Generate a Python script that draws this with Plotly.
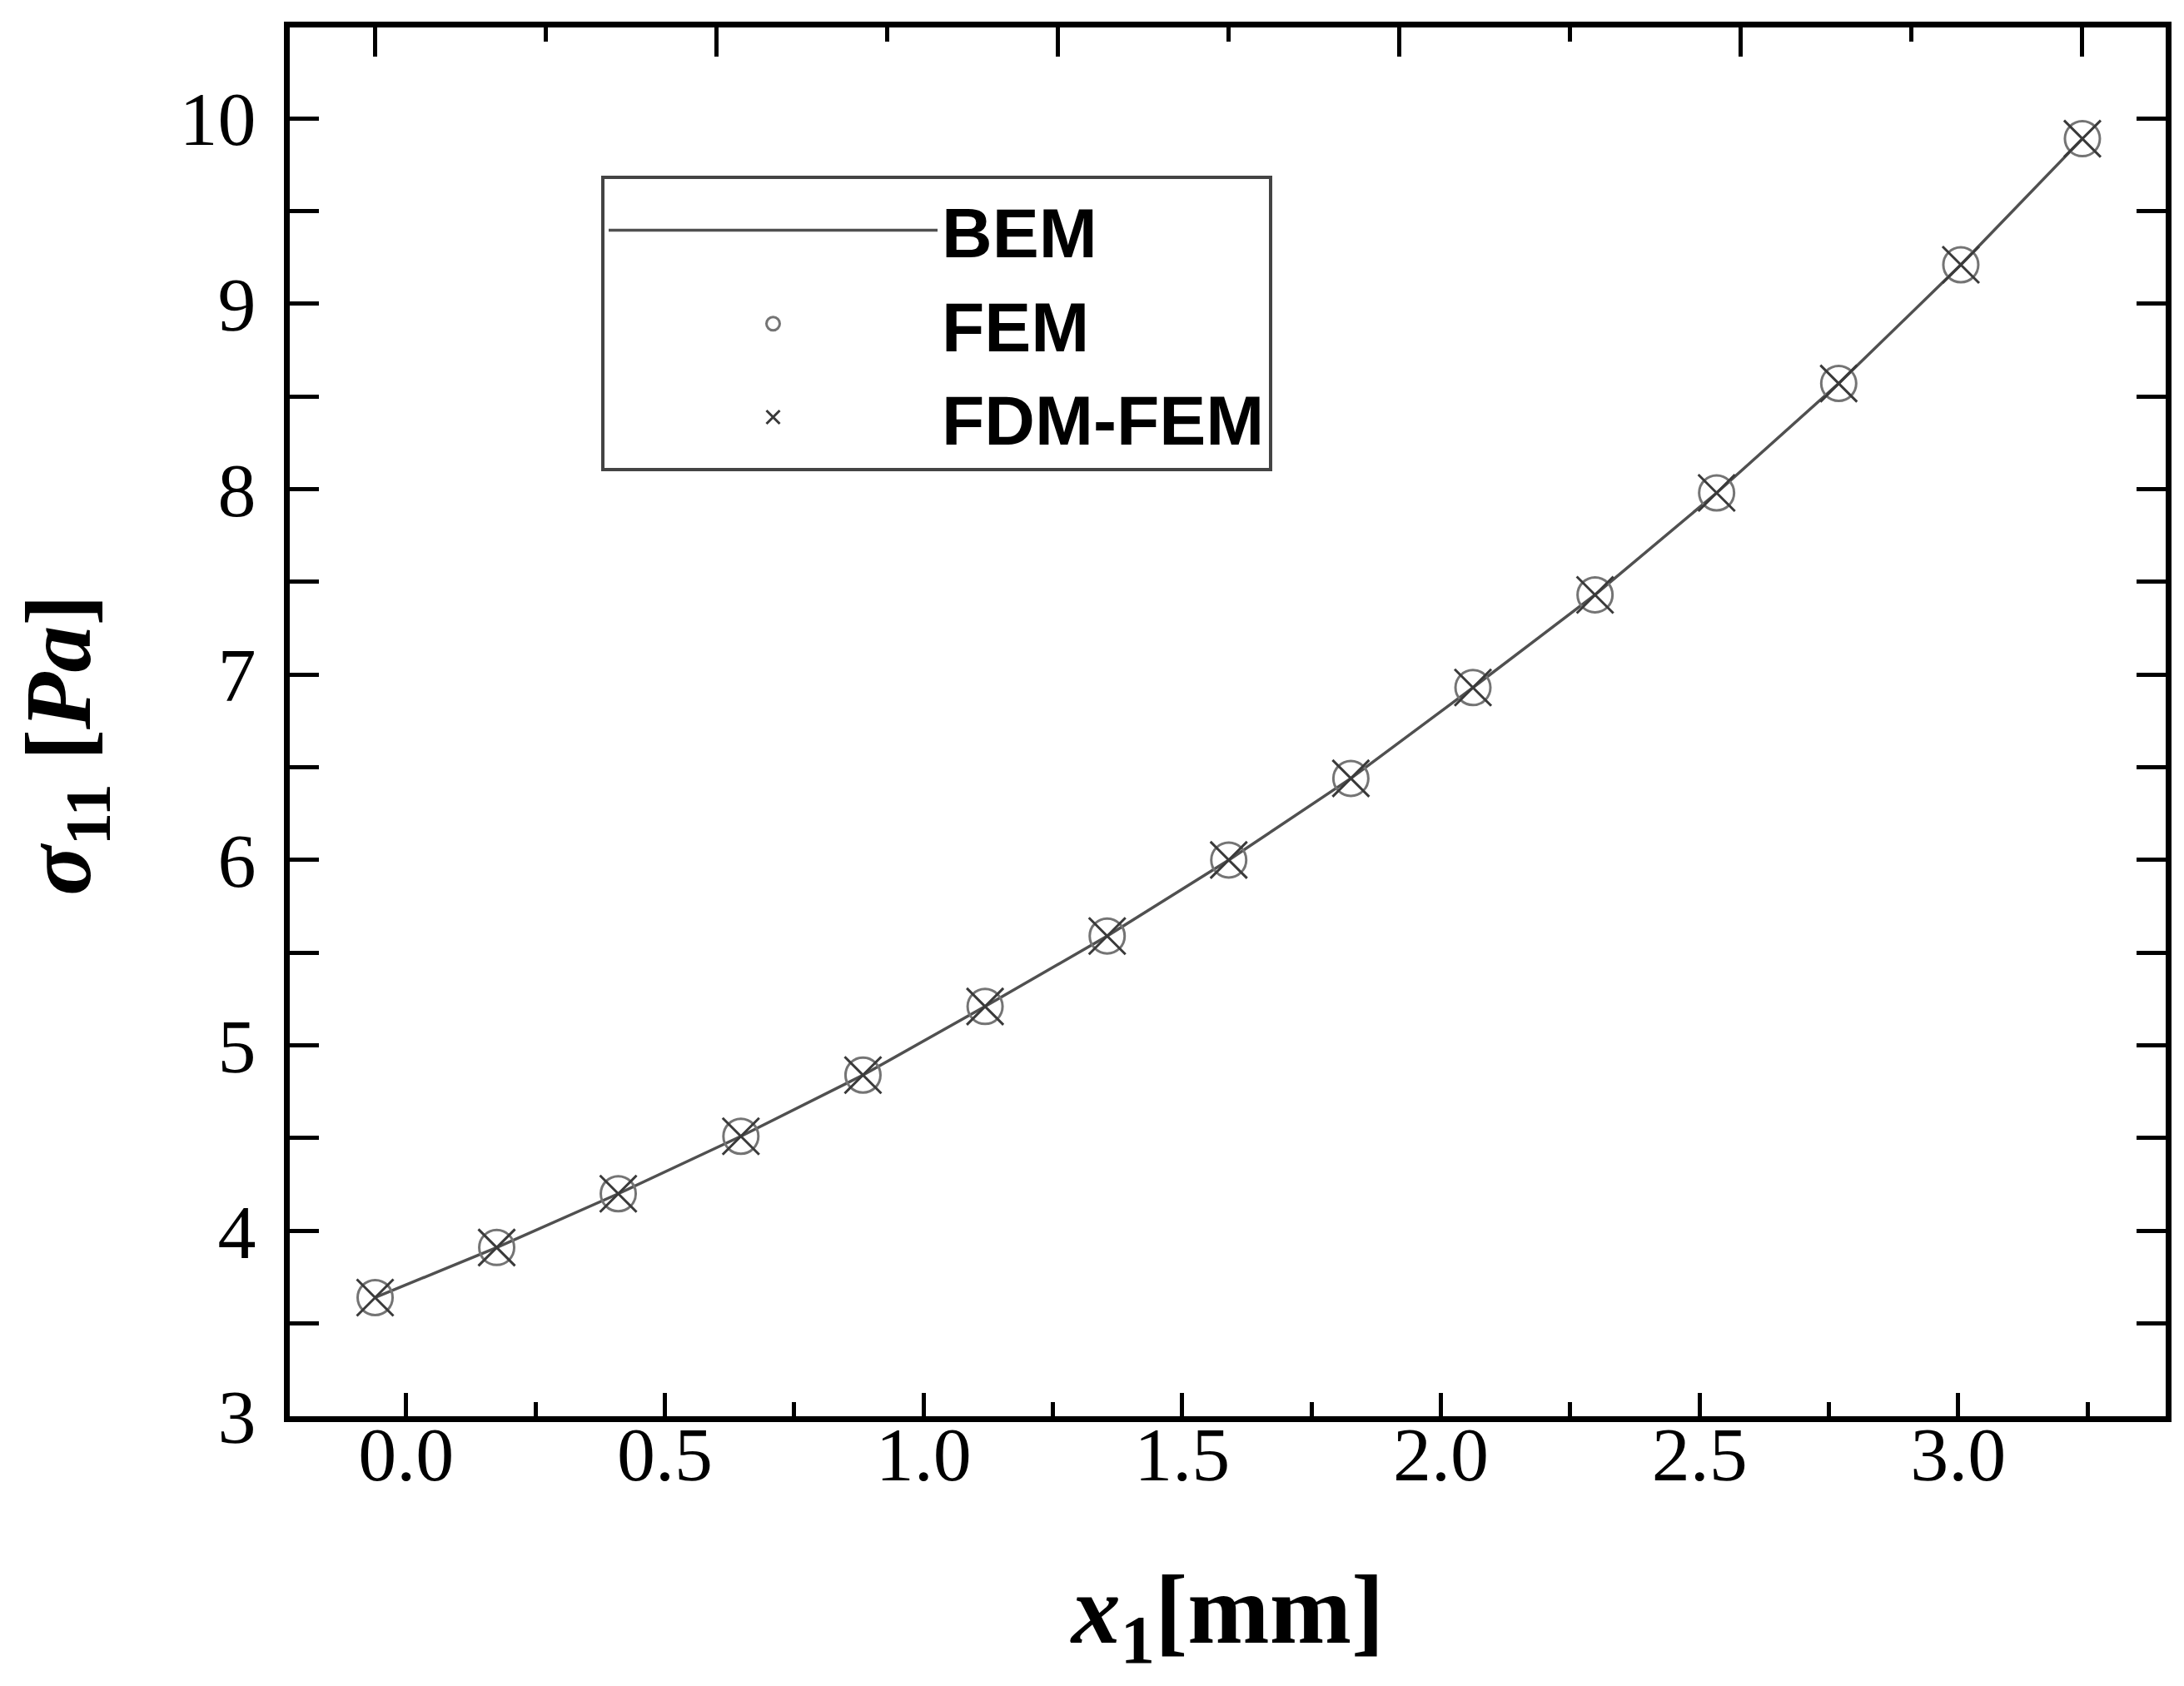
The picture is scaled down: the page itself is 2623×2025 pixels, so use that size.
import plotly.graph_objects as go

# ---- data ----
x_bem = [-0.06, 0.175, 0.41, 0.647, 0.883, 1.119, 1.355, 1.59, 1.826, 2.062, 2.298, 2.533, 2.769, 3.005, 3.24]
bem = [3.64, 3.91, 4.20, 4.51, 4.84, 5.21, 5.59, 6.00, 6.44, 6.93, 7.43, 7.98, 8.57, 9.21, 9.89]

x_fem = [-0.06, 0.175, 0.41, 0.647, 0.883, 1.119, 1.355, 1.59, 1.826, 2.062, 2.298, 2.533, 2.769, 3.005, 3.24]
fem = [3.64, 3.91, 4.20, 4.51, 4.84, 5.21, 5.59, 6.00, 6.44, 6.93, 7.43, 7.98, 8.57, 9.21, 9.89]

x_fdm = [-0.06, 0.175, 0.41, 0.647, 0.883, 1.119, 1.355, 1.59, 1.826, 2.062, 2.298, 2.533, 2.769, 3.005, 3.24]
fdm_fem = [3.64, 3.91, 4.20, 4.51, 4.84, 5.21, 5.59, 6.00, 6.44, 6.93, 7.43, 7.98, 8.57, 9.21, 9.89]

x_tick_vals = [0.0, 0.5, 1.0, 1.5, 2.0, 2.5, 3.0]
x_tick_text = ["0.0", "0.5", "1.0", "1.5", "2.0", "2.5", "3.0"]
y_tick_vals = [3, 4, 5, 6, 7, 8, 9, 10]
y_tick_text = ["3", "4", "5", "6", "7", "8", "9", "10"]

series_names = ["BEM", "FEM", "FDM-FEM"]

SERIF = "Liberation Serif"

fig = go.Figure()

fig.add_trace(go.Scatter(
    x=x_bem, y=bem, name=series_names[0], mode="lines",
    line=dict(color="#505050", width=3.5),
))
fig.add_trace(go.Scatter(
    x=x_fem, y=fem, name=series_names[1], mode="markers",
    marker=dict(symbol="circle-open", size=42, color="#747474",
                line=dict(width=3, color="#747474")),
))
fig.add_trace(go.Scatter(
    x=x_fdm, y=fdm_fem, name=series_names[2], mode="markers",
    marker=dict(symbol="x-thin-open", size=44, color="#3a3a3a",
                line=dict(width=3, color="#3a3a3a")),
))
# helper trace so the top (secondary) tick axis is drawn
fig.add_trace(go.Scatter(x=[None], y=[None], xaxis="x2", yaxis="y",
                         showlegend=False, hoverinfo="skip"))

fig.update_layout(
    width=2623, height=2025,
    margin=dict(l=340, r=30, t=25, b=332),
    paper_bgcolor="white", plot_bgcolor="white",
    showlegend=True,
    legend=dict(
        x=0.166, y=0.893, xanchor="left", yanchor="top",
        bgcolor="white", bordercolor="#444444", borderwidth=4,
        font=dict(family="Liberation Sans", size=84, color="black", weight="bold"),
        itemwidth=395, tracegroupgap=0,
    ),
    xaxis=dict(
        range=[-0.225, 3.401],
        tickmode="array", tickvals=x_tick_vals, ticktext=x_tick_text,
        ticks="inside", ticklen=28, tickwidth=5, tickcolor="black",
        minor=dict(dtick=0.25, tick0=0, ticks="inside", ticklen=17,
                   tickwidth=5, tickcolor="black", showgrid=False),
        showline=True, linewidth=7, linecolor="black", mirror=True,
        showgrid=False, zeroline=False,
        tickfont=dict(family=SERIF, size=92, color="black"),
        ticklabelstandoff=-40,
        title=dict(text="<b><i>x</i><sub>1</sub>[mm]</b>",
                   font=dict(family=SERIF, size=118, color="black"),
                   standoff=95),
    ),
    xaxis2=dict(
        overlaying="x", side="top", anchor="y",
        range=[-0.251, 5.244], dtick=1, tick0=0,
        ticks="inside", ticklen=35, tickwidth=5, tickcolor="black",
        minor=dict(dtick=0.5, tick0=0, ticks="inside", ticklen=17,
                   tickwidth=5, tickcolor="black", showgrid=False),
        showticklabels=False, showline=False, showgrid=False, zeroline=False,
    ),
    yaxis=dict(
        range=[3.0, 10.49],
        tickmode="array", tickvals=y_tick_vals, ticktext=y_tick_text,
        ticks="inside", ticklen=35, tickwidth=5, tickcolor="black",
        minor=dict(dtick=0.5, tick0=0, ticks="inside", ticklen=18,
                   tickwidth=5, tickcolor="black", showgrid=False),
        showline=True, linewidth=7, linecolor="black", mirror="allticks",
        showgrid=False, zeroline=False,
        tickfont=dict(family=SERIF, size=92, color="black"),
        ticklabelstandoff=15,
        title=dict(text="<b><i>σ</i><sub>11</sub> [<i>Pa</i>]</b>&nbsp;&nbsp;",
                   font=dict(family=SERIF, size=112, color="black"),
                   standoff=75),
    ),
)

fig.write_html("out.html")
